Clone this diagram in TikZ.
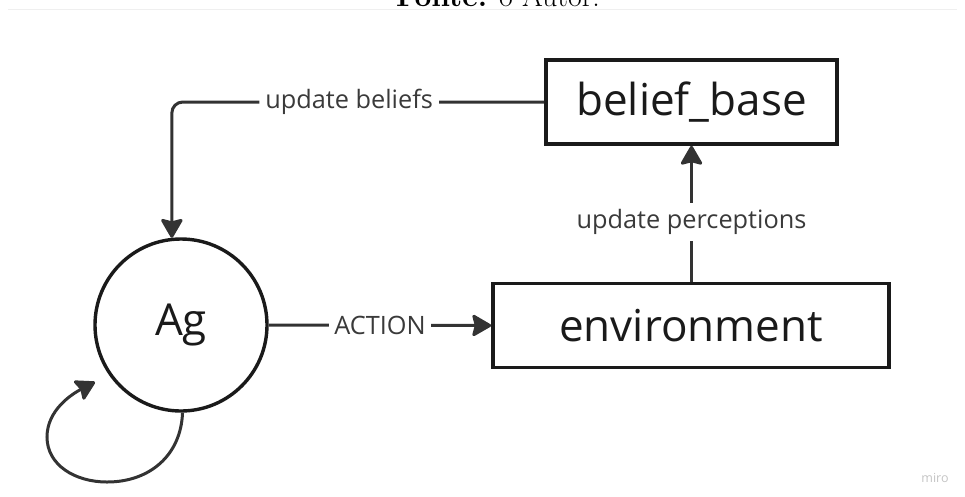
\documentclass[tikz,border=0pt]{standalone}
\usepackage{fontspec}
\newfontfamily\osans{Open Sans}
\usetikzlibrary{arrows.meta}
\definecolor{linec}{HTML}{333333}
\definecolor{boxc}{HTML}{1A1A1A}
\definecolor{lblc}{HTML}{3A3A3A}
\definecolor{rulec}{HTML}{EFEFEF}
\definecolor{miroc}{HTML}{C4C4C4}
\begin{document}
\begin{tikzpicture}[x=1pt,y=-1pt,
  boxnode/.style={draw=boxc, line width=3.6pt, inner sep=0pt, text=boxc, font=\osans\fontsize{44}{50}\selectfont},
  agnode/.style={circle, draw=boxc, line width=3.4pt, inner sep=0pt, minimum size=172pt, text=boxc, font=\osans\fontsize{44}{50}\selectfont},
  conn/.style={draw=linec, line width=3pt, -{Stealth[length=21pt,width=24pt,inset=3pt,round]}},
  lbl/.style={fill=white, inner sep=6pt, text=lblc, font=\osans\fontsize{25.3}{29}\selectfont}
]
\useasboundingbox (0,0) rectangle (965,496);
\begin{scope}
  \clip (0,0) rectangle (965,496);
  \node[anchor=base, inner sep=0pt, font=\fontsize{30}{35}\selectfont] (cap) at (498,6) {\textbf{Fonte:} o Autor.};
  \draw[rulec, line width=1pt] (8,9.5) coordinate (r1) -- (957,9.5) coordinate (r2);
\end{scope}

\node[boxnode, minimum width=291pt, minimum height=84pt] (bb) at (691.5,102) {belief\_base};
\node[boxnode, minimum width=396pt, minimum height=84pt] (env) at (691,325.5) {environment};
\node[agnode] (ag) at (181,325) {Ag};

% update beliefs
\coordinate (corner) at (ag.96 |- bb.west);
\draw[conn, rounded corners=11pt] (bb.west) -- node[lbl, pos=0.524] (ub) {update beliefs} (corner) -- (ag.96);

% action
\draw[conn] (ag.east) -- node[lbl, inner sep=5pt] (act) {ACTION} (env.west);

% update perceptions
\draw[conn] (env.north -| bb.south) -- node[lbl, pos=0.44] (up) {update perceptions} (bb.south);

% self loop
\coordinate (ls) at (ag.-89);
\coordinate (le) at (95,382);
\draw[conn] (ls) .. controls (181,455) and (150,482) .. (107,482)
  .. controls (75,482) and (47,465) .. (47,437)
  .. controls (47,410) and (72,394) .. (le);

\node[text=miroc, font=\osans\fontsize{12.5}{14}\selectfont] (miro) at (935,478) {miro};
\end{tikzpicture}
\end{document}
